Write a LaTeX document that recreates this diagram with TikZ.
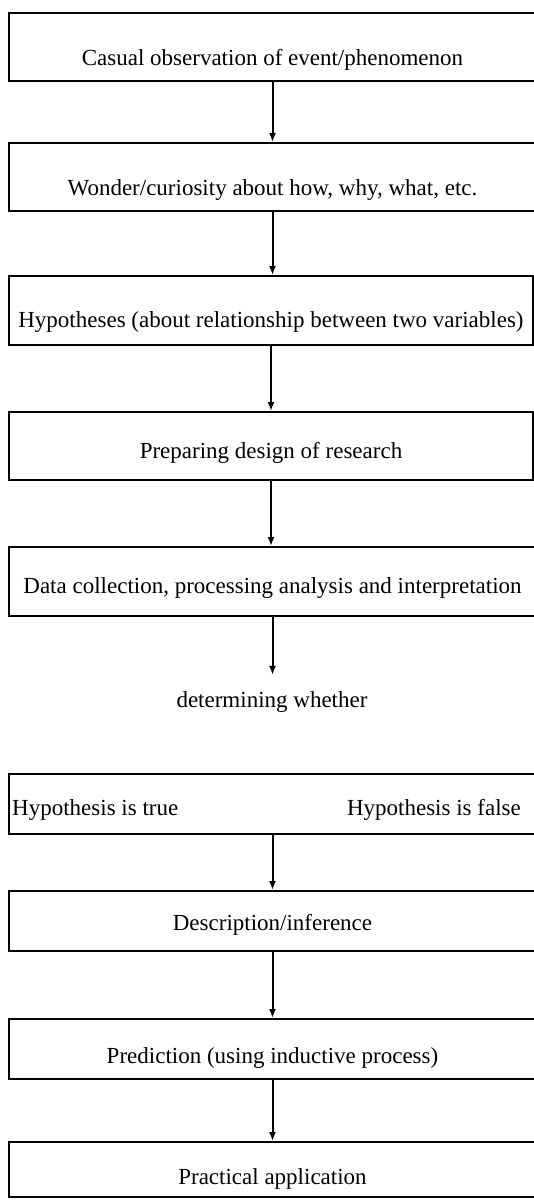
\documentclass[tikz,border=0pt]{standalone}
\usepackage{fontspec}
\setmainfont{Liberation Serif}
\usepackage{tikz}
\usetikzlibrary{arrows.meta}

\tikzset{
  stage/.style 2 args={draw, line width=2pt, inner sep=0pt, minimum width=527pt,
    anchor=west, text height=#1, text depth=#2, font=\fontsize{23}{28}\selectfont},
  flow/.style={line width=2pt, -{Latex[length=9pt,width=7pt]}},
  plain/.style={inner sep=0pt, font=\fontsize{23}{28}\selectfont}
}

\begin{document}
\begin{tikzpicture}[x=1pt,y=1pt,yscale=-1,xscale=1]
\useasboundingbox (0,0) rectangle (534,1203);

%Boxes
\node[stage={52pt}{16pt}] (obs) at (8,47) {Casual observation of event/phenomenon};
\node[stage={52pt}{16pt}] (wonder) at (8,177) {Wonder/curiosity about how, why, what, etc.};
\node[stage={51pt}{18pt}, minimum width=524pt] (hyp) at (8,310.5) {Hypotheses (about relationship between two variables)};
\node[stage={46pt}{22pt}, minimum width=524pt] (design) at (8,446) {Preparing design of research};
\node[stage={46pt}{23pt}] (data) at (8,581.5) {Data collection, processing analysis and interpretation};

%determining
\node[plain, anchor=base] (det) at (272,707) {determining whether};

%Hypothesis box
\node[draw, line width=2pt, inner sep=0pt, minimum width=527pt, minimum height=60pt, anchor=west] (test) at (8,804) {};
\node[plain, anchor=base west] (htrue) at (12,815) {Hypothesis is true};
\node[plain, anchor=base east] (hfalse) at (521,815) {Hypothesis is false};

\node[stage={39pt}{21pt}] (desc) at (8,921) {Description/inference};
\node[stage={44pt}{16pt}] (pred) at (8,1049) {Prediction (using inductive process)};
\node[stage={42pt}{13pt}] (appl) at (8,1169.5) {Practical application};

%Arrows
\draw[flow] (obs.south) -- (wonder.north);
\draw[flow] (wonder.south) -- (wonder.south |- hyp.north);
\draw[flow] (hyp.south) -- (design.north);
\draw[flow] (design.south) -- (design.south |- data.north);
\draw[flow] (data.south) -- ([yshift=-16pt]data.south |- det.north);
\draw[flow] (test.south) -- (desc.north);
\draw[flow] (desc.south) -- (pred.north);
\draw[flow] (pred.south) -- (appl.north);

\end{tikzpicture}
\end{document}
